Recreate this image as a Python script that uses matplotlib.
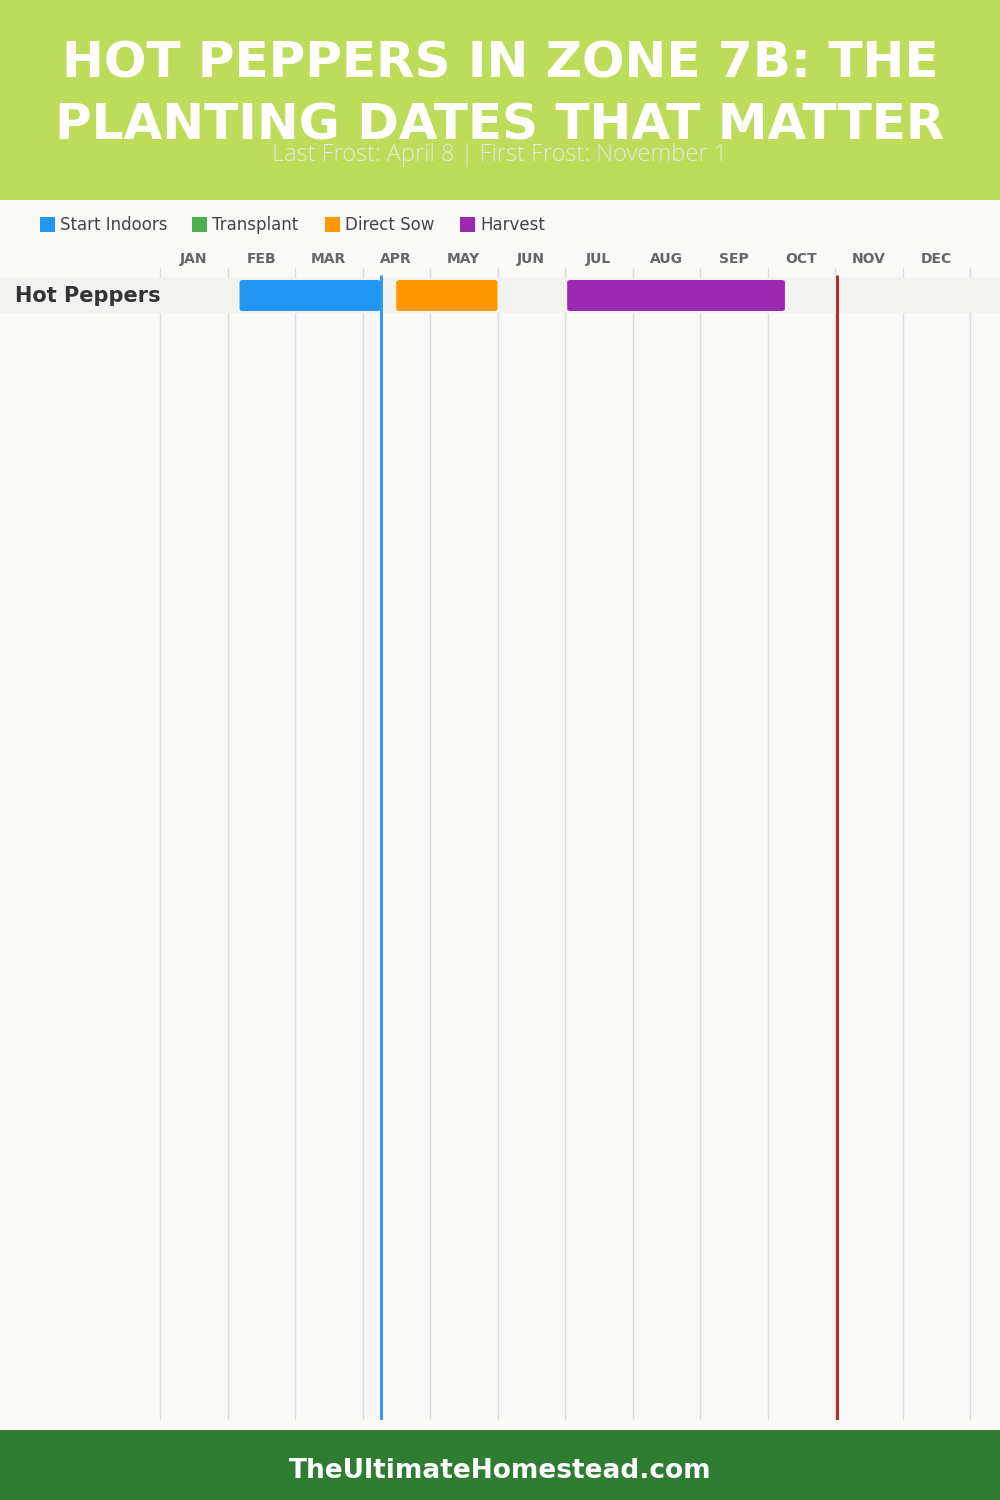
import matplotlib
matplotlib.use("Agg")
import matplotlib.pyplot as plt
from matplotlib.patches import Rectangle, FancyBboxPatch

# ===============================
# DATA
# ===============================
TITLE_LINES = ["HOT PEPPERS IN ZONE 7B: THE", "PLANTING DATES THAT MATTER"]
SUBTITLE = "Last Frost: April 8 | First Frost: November 1"
FOOTER = "TheUltimateHomestead.com"

months = ["JAN", "FEB", "MAR", "APR", "MAY", "JUN",
          "JUL", "AUG", "SEP", "OCT", "NOV", "DEC"]
days_in_month = [31, 28, 31, 30, 31, 30, 31, 31, 30, 31, 30, 31]

crops = ["Hot Peppers"]

phase_names = ["Start Indoors", "Transplant", "Direct Sow", "Harvest"]
phase_colors = ["#2196F3", "#4CAF50", "#FF9800", "#9C27B0"]

# (crop, start (month, day), end (month, day))
start_indoors = [("Hot Peppers", (2, 5), (4, 8))]
transplant = []
direct_sow = [("Hot Peppers", (4, 15), (5, 31))]
harvest = [("Hot Peppers", (7, 1), (10, 8))]

last_frost = (4, 8)
first_frost = (11, 1)

# ===============================
# HELPERS
# ===============================
W, H = 1000, 1500


def month_pos(md):
    m, d = md
    return (m - 1) + d / days_in_month[m - 1]


def fy(py):
    # pixel y (from top) -> figure fraction
    return 1 - py / H


def fx(px):
    return px / W


# ===============================
# FIGURE
# ===============================
fig = plt.figure(figsize=(10, 15), dpi=100)
fig.patch.set_facecolor("#F9F9F7")

# header / footer bands
fig.patches.append(Rectangle((0, fy(200)), 1, 200 / H, transform=fig.transFigure,
                             facecolor="#BDDD5A", edgecolor="none", zorder=0))
fig.patches.append(Rectangle((0, 0), 1, 70 / H, transform=fig.transFigure,
                             facecolor="#2E7D32", edgecolor="none", zorder=0))

fig.text(0.5, fy(64), TITLE_LINES[0], ha="center", va="center", color="white",
         fontsize=36, fontweight="bold", family="DejaVu Sans")
fig.text(0.5, fy(125), TITLE_LINES[1], ha="center", va="center", color="white",
         fontsize=36, fontweight="bold", family="DejaVu Sans")
fig.text(0.5, fy(155), SUBTITLE, ha="center", va="center", color="#E4E6DE",
         fontsize=17, fontweight="light", family="Open Sans")
fig.text(0.5, fy(1471), FOOTER, ha="center", va="center", color="white",
         fontsize=19, fontweight="bold", family="DejaVu Sans")

# legend
legend_x = [40, 192, 325, 460]
for name, col, lx in zip(phase_names, phase_colors, legend_x):
    fig.patches.append(Rectangle((fx(lx), fy(232)), 15 / W, 15 / H,
                                 transform=fig.transFigure, facecolor=col,
                                 edgecolor="none"))
    fig.text(fx(lx + 20), fy(225), name, ha="left", va="center",
             color="#444444", fontsize=12, family="DejaVu Sans")

# ===============================
# TIMELINE AXES
# ===============================
ax_top, ax_bot = 268, 1420
ax = fig.add_axes([0, fy(ax_bot), 1, (ax_bot - ax_top) / H])
ax.set_facecolor("none")
month_w = 67.5
x0 = 160
ax.set_xlim(-x0 / month_w, (W - x0) / month_w)
row_h = 35
ax.set_ylim(-0.5 + (ax_bot - 278) / row_h, -0.5 - (278 - ax_top) / row_h)
ax.axis("off")

for k in range(13):
    ax.axvline(k, color="#DDDDDD", lw=1, zorder=1)

for i, m in enumerate(months):
    fig.text(fx(x0 + (i + 0.5) * month_w), fy(259), m, ha="center", va="center",
             color="#666666", fontsize=10, fontweight="bold", family="DejaVu Sans")

xmin, xmax = ax.get_xlim()
for r, crop in enumerate(crops):
    ax.add_patch(Rectangle((xmin, r - 0.5), xmax - xmin, 1,
                           facecolor="#F2F2F0", edgecolor="none", zorder=2))
    ax.text(xmin + 15 / month_w, r, crop, ha="left", va="center",
            color="#333333", fontsize=15, fontweight="bold", family="DejaVu Sans",
            zorder=5)

bar_h = 31 / row_h
for phase, col in zip([start_indoors, transplant, direct_sow, harvest], phase_colors):
    for crop, s, e in phase:
        r = crops.index(crop)
        xs, xe = month_pos(s), month_pos(e)
        ax.add_patch(FancyBboxPatch((xs, r - bar_h / 2), xe - xs, bar_h,
                                    boxstyle="round,pad=0,rounding_size=0.05",
                                    mutation_aspect=1.3,
                                    facecolor=col, edgecolor="none", zorder=3))

ax.plot([month_pos(last_frost)] * 2, [ax.get_ylim()[0], -0.5 - 3 / row_h],
        color="#2196F3", lw=2, zorder=4, solid_capstyle="butt")
ax.plot([month_pos(first_frost)] * 2, [ax.get_ylim()[0], -0.5 - 3 / row_h],
        color="#B71C1C", lw=2, zorder=4, solid_capstyle="butt")

plt.savefig("out.png", dpi=100, facecolor=fig.get_facecolor())
